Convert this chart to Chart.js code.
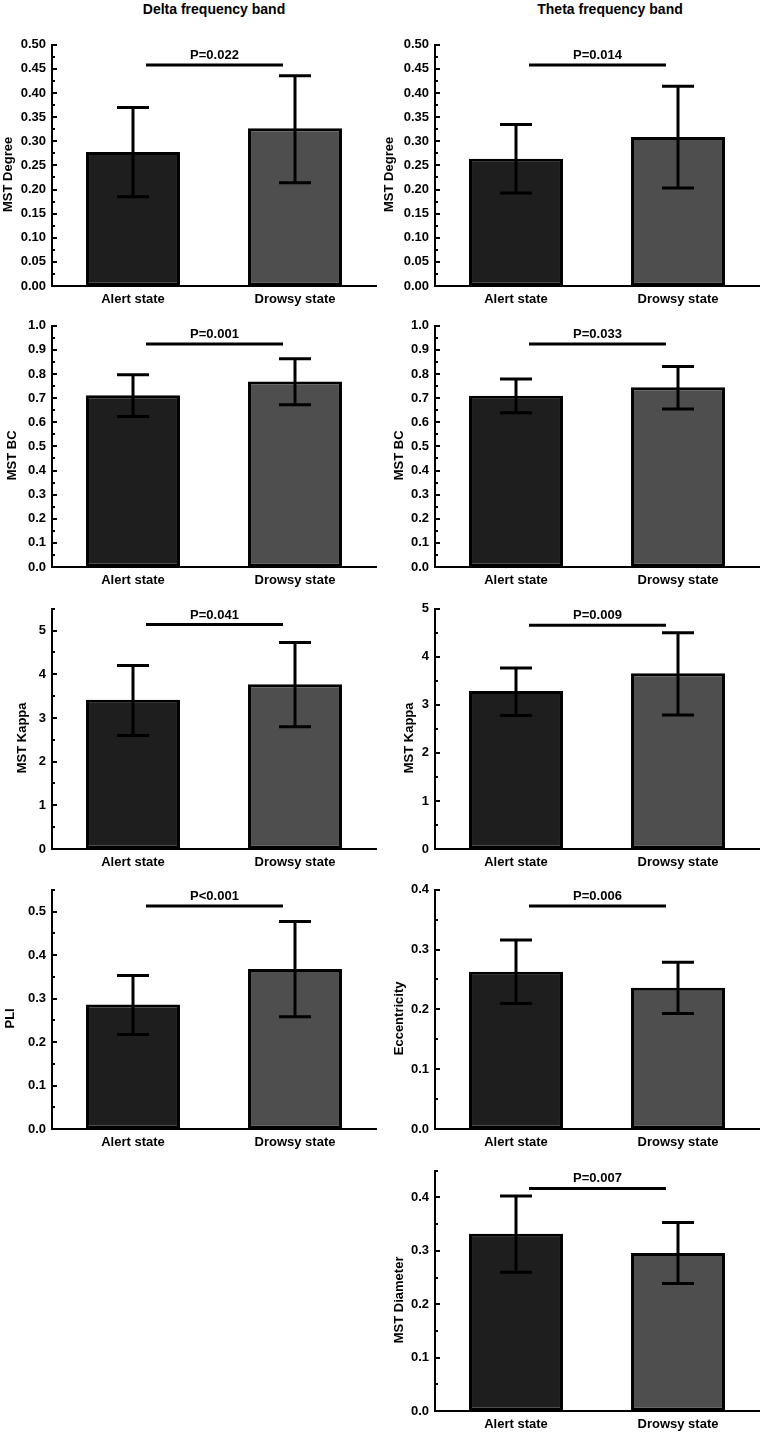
<!DOCTYPE html>
<html>
<head>
<meta charset="utf-8">
<script src="https://cdn.jsdelivr.net/npm/chart.js@4"></script>
<style>
  body { margin: 0; background: #fff; width: 762px; height: 1436px; position: relative; overflow: hidden; }
  .band { position: absolute; top: 1px; width: 300px; margin-left: -150px; text-align: center;
          font: bold 14px "Liberation Sans", Arial, sans-serif; line-height: 16px; color: #000; }
  canvas { position: absolute; }
</style>
</head>
<body>
<div class="band" style="left:214px">Delta frequency band</div>
<div class="band" style="left:610px">Theta frequency band</div>

<script>
// data
const categories = ["Alert state", "Drowsy state"];
const yTitles = ["MST Degree", "MST Degree", "MST BC", "MST BC", "MST Kappa", "MST Kappa", "PLI", "Eccentricity", "MST Diameter"];
const means = [[0.278, 0.327], [0.264, 0.309], [0.712, 0.769], [0.710, 0.745], [3.42, 3.77], [3.29, 3.66], [0.286, 0.368], [0.263, 0.236], [0.332, 0.296]];
const errLow = [[0.185, 0.214], [0.193, 0.203], [0.624, 0.673], [0.639, 0.655], [2.60, 2.80], [2.78, 2.79], [0.217, 0.258], [0.210, 0.193], [0.260, 0.239]];
const errHigh = [[0.370, 0.436], [0.335, 0.414], [0.797, 0.863], [0.779, 0.831], [4.20, 4.73], [3.77, 4.50], [0.353, 0.477], [0.316, 0.279], [0.403, 0.353]];
const pLabels = ["P=0.022", "P=0.014", "P=0.001", "P=0.033", "P=0.041", "P=0.009", "P<0.001", "P=0.006", "P=0.007"];
const pLineY = [0.458, 0.458, 0.925, 0.925, 5.14, 4.66, 0.513, 0.373, 0.417];
const yMax = [0.5, 0.5, 1.0, 1.0, 5.5, 5, 0.55, 0.4, 0.45];
const yStep = [0.05, 0.05, 0.1, 0.1, 1, 1, 0.1, 0.1, 0.1];
const yDecimals = [2, 2, 1, 1, 0, 0, 1, 1, 1];

// layout
const panelCol = [0, 1, 0, 1, 0, 1, 0, 1, 1];
const panelRow = [0, 0, 1, 1, 2, 2, 3, 3, 4];
const rowTop = [31, 312, 595, 876, 1157];
const rowPlotH = [243, 243, 242, 241, 242];
const titleX = [8, 8, 12, 18, 22, 28, 10, 18, 18];

const FONT = "'Liberation Sans', Arial, sans-serif";
Chart.defaults.font.family = FONT;
Chart.defaults.color = "#000";
Chart.defaults.animation = false;

const panelMarks = {
  id: "panelMarks",
  afterDraw(chart, args, opts) {
    const ctx = chart.ctx;
    const y = chart.scales.y;
    const area = chart.chartArea;
    const meta = chart.getDatasetMeta(0);
    ctx.save();
    ctx.strokeStyle = "#000";
    ctx.fillStyle = "#000";
    ctx.lineWidth = 2;
    // inward major / minor ticks on y axis
    const n = Math.round(y.max / (opts.step / 2));
    for (let i = 1; i <= n; i++) {
      const py = Math.round(y.getPixelForValue(i * opts.step / 2));
      const len = i % 2 === 0 ? 5 : 3;
      ctx.beginPath();
      ctx.moveTo(area.left, py);
      ctx.lineTo(area.left + len, py);
      ctx.stroke();
    }
    // error bars
    ctx.lineWidth = 3;
    meta.data.forEach((bar, i) => {
      const yl = y.getPixelForValue(opts.low[i]);
      const yh = y.getPixelForValue(opts.high[i]);
      ctx.beginPath();
      ctx.moveTo(bar.x, yl); ctx.lineTo(bar.x, yh);
      ctx.moveTo(bar.x - 16, yl); ctx.lineTo(bar.x + 16, yl);
      ctx.moveTo(bar.x - 16, yh); ctx.lineTo(bar.x + 16, yh);
      ctx.stroke();
    });
    // significance line
    const x1 = meta.data[0].x + 13;
    const x2 = meta.data[1].x - 12;
    const ly = y.getPixelForValue(opts.pY);
    ctx.beginPath();
    ctx.moveTo(x1, ly); ctx.lineTo(x2, ly);
    ctx.stroke();
    ctx.font = "bold 13px " + FONT;
    ctx.textAlign = "center";
    ctx.textBaseline = "alphabetic";
    ctx.fillText(opts.label, (x1 + x2) / 2, ly - 6);
    // y axis title
    ctx.translate(opts.titleX, (area.top + area.bottom) / 2 + 9);
    ctx.rotate(-Math.PI / 2);
    ctx.textBaseline = "middle";
    ctx.fillText(opts.title, 0, 0);
    ctx.restore();
  }
};

for (let p = 0; p < means.length; p++) {
  const col = panelCol[p], row = panelRow[p];
  const canvas = document.createElement("canvas");
  const h = 12 + rowPlotH[row] + 26;
  canvas.width = 381; canvas.height = h;
  canvas.style.left = (col * 381) + "px";
  canvas.style.top = rowTop[row] + "px";
  canvas.style.width = "381px"; canvas.style.height = h + "px";
  document.body.appendChild(canvas);
  const yWidth = col === 0 ? 52 : 54;
  const dec = yDecimals[p];

  new Chart(canvas.getContext("2d"), {
    type: "bar",
    data: {
      labels: categories,
      datasets: [{
        data: means[p],
        backgroundColor: ["#1e1e1e", "#4e4e4e"],
        borderColor: "#000",
        borderWidth: 3,
        borderSkipped: false,
        barPercentage: 0.58,
        categoryPercentage: 1
      }]
    },
    options: {
      responsive: false,
      devicePixelRatio: 1,
      layout: { padding: { top: 12, right: col === 0 ? 5 : 3, left: 0, bottom: 0 } },
      plugins: {
        legend: { display: false },
        tooltip: { enabled: false },
        panelMarks: {
          low: errLow[p], high: errHigh[p], label: pLabels[p], pY: pLineY[p],
          step: yStep[p], title: yTitles[p], titleX: titleX[p]
        }
      },
      scales: {
        x: {
          grid: { display: true, drawOnChartArea: false, drawTicks: false, color: "rgba(0,0,0,0)" },
          border: { display: true, color: "#000", width: 2 },
          ticks: { font: { size: 13, weight: "bold" }, padding: 6, color: "#000" },
          afterFit(scale) { scale.height = 26; }
        },
        y: {
          min: 0,
          max: yMax[p],
          grid: { display: true, drawOnChartArea: false, drawTicks: false, color: "rgba(0,0,0,0)" },
          border: { display: true, color: "#000", width: 2 },
          ticks: {
            stepSize: yStep[p],
            includeBounds: false,
            font: { size: 13, weight: "bold" },
            padding: 6,
            color: "#000",
            callback: v => Number(v).toFixed(dec)
          },
          afterFit(scale) { scale.width = yWidth; }
        }
      }
    },
    plugins: [panelMarks]
  });
}
</script>
</body>
</html>
